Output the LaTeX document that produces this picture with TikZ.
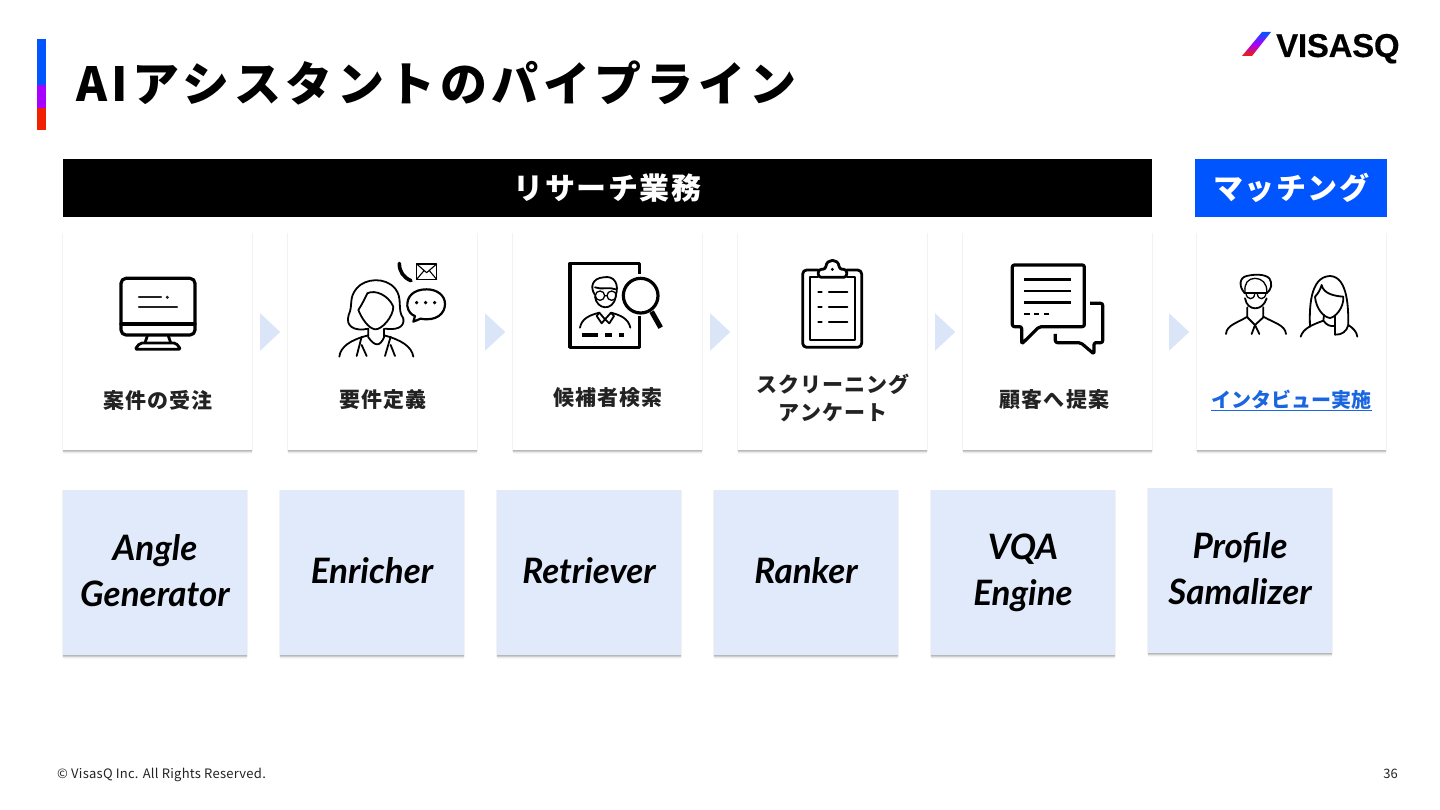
\documentclass[tikz,border=0pt]{standalone}
\usepackage{fontspec}
\setmainfont{Noto Sans CJK JP}
\newfontfamily\slantfont{Lato}
\newfontfamily\logofont[BoldFeatures={FakeBold=0.35}]{Liberation Sans}
\usetikzlibrary{arrows.meta, positioning, calc, shadows, shapes.geometric}
\definecolor{vqblue}{HTML}{0055FF}
\definecolor{vqpurple}{HTML}{A800FF}
\definecolor{vqred}{HTML}{F02000}
\definecolor{vqdark}{HTML}{222222}
\definecolor{vqlink}{HTML}{1A66E0}
\definecolor{vqpale}{HTML}{E1EAFB}
\definecolor{vqchev}{HTML}{DAE5F8}
\tikzset{
  softshadow/.style={
    general shadow={fill=black, opacity=0.05, shadow scale=1.012, shadow xshift=0pt, shadow yshift=-1pt},
    general shadow={fill=black, opacity=0.03, shadow xshift=0pt, shadow yshift=-4pt},
    general shadow={fill=black, opacity=0.05, shadow xshift=0pt, shadow yshift=-3pt},
    general shadow={fill=black, opacity=0.08, shadow xshift=0pt, shadow yshift=-2pt},
    general shadow={fill=black, opacity=0.10, shadow xshift=0pt, shadow yshift=-1pt}},
  card/.style={rectangle, minimum width=189pt, minimum height=217pt, inner sep=0pt, outer sep=0pt, fill=white, softshadow},
  tool/.style={rectangle, minimum width=184pt, minimum height=165pt, inner sep=0pt, outer sep=0pt, fill=vqpale, softshadow},
  toollabel/.style={align=center, inner sep=0pt, font=\slantfont\bfseries\itshape\fontsize{35}{46}\selectfont,
    execute at begin node=\strut, execute at end node=\strut},
  bar/.style={rectangle, minimum height=58pt, inner sep=0pt, text=white,
    font=\bfseries\fontsize{30}{36}\selectfont\addfontfeature{LetterSpace=5}},
  label/.style={align=center, text=vqdark, inner sep=0pt,
    font=\bfseries\fontsize{21}{28}\selectfont\addfontfeature{LetterSpace=5}},
  chev/.style={isosceles triangle, isosceles triangle apex angle=86, inner sep=0pt,
    minimum height=20pt, fill=vqchev, anchor=lower side},
  icon/.style={draw=black, line width=2.8pt, line join=round, line cap=round},
  thinicon/.style={draw=black, line width=1.8pt, line join=round, line cap=round},
}
\begin{document}
\begin{tikzpicture}[x=1pt, y=-1pt]
  \useasboundingbox (0,0) rectangle (1440,810);
  % title and logo
  \fill[vqblue] (37,39) rectangle (46,85);
  \fill[vqpurple] (37,85) rectangle (46,108);
  \fill[vqred] (37,108) rectangle (46,130);
  \node[anchor=base west, inner sep=0pt, font=\bfseries\fontsize{47}{50}\selectfont\addfontfeature{LetterSpace=9.7}] (title) at (76,102) {AIアシスタントのパイプライン};
  \shade[top color=vqblue, bottom color=vqred, middle color=vqpurple] (1262,32) -- (1271,32) -- (1252,56) -- (1242,56) -- cycle;
  \node[anchor=base west, inner sep=0pt, font=\logofont\bfseries\fontsize{33}{36}\selectfont\addfontfeature{LetterSpace=-0.8}] (logo) at (1276,57) {VISASQ};

  % headers
  \node[bar, fill=black, minimum width=1089pt, anchor=north west] (research) at (63,159) {リサーチ業務};
  \node[bar, fill=vqblue, minimum width=192pt, anchor=north west] (matching) at (1195,159) {マッチング};

  % process cards
  \node[card, anchor=north west] (order) at (63,233) {};
  \node[card, right=36pt of order] (define) {};
  \node[card, right=36pt of define] (search) {};
  \node[card, right=36pt of search] (screen) {};
  \node[card, right=36pt of screen] (propose) {};
  \node[card, right=45pt of propose] (interview) {};
  \foreach \a/\b in {order/define, define/search, search/screen, screen/propose}
    \node[chev] (\a-\b) at ($(\a.east)+(8,-9.5)$) {};
  \node[chev] (propose-interview) at ($(propose.east)+(17,-9.5)$) {};

  \node[label] (lborder) at (158,400) {案件の受注};
  \node[label] (lbdefine) at (383,400) {要件定義};
  \node[label] (lbsearch) at (608,398) {候補者検索};
  \node[label] (lbscreen) at (833,398) {スクリーニング\\アンケート};
  \node[label] (lbpropose) at (1054.5,400) {顧客へ提案};
  \node[label, text=vqlink, font=\bfseries\fontsize{20}{26}\selectfont\addfontfeature{LetterSpace=0.5}] (lbinterview) at (1291.5,400.5) {\underline{インタビュー実施}};

  % engine cards
  \node[tool, anchor=north west] (angle) at (63,490) {};
  \node[tool, right=33pt of angle] (enricher) {};
  \node[tool, right=33pt of enricher] (retriever) {};
  \node[tool, right=33pt of retriever] (ranker) {};
  \node[tool, right=33pt of ranker] (vqa) {};
  \node[tool, anchor=north west] (profile) at (1148,488) {};
  \foreach \n/\t/\dy in {angle/{Angle\\Generator}/4.5, enricher/Enricher/2, retriever/Retriever/2, ranker/Ranker/2, vqa/{VQA\\Engine}/4.5, profile/{Profile\\Samalizer}/4.5}
    \node[toollabel] (lb\n) at ($(\n)+(0,\dy)$) {\t};

  % monitor
  \begin{scope}[shift={(60,230)}, scale=1/3]
    \draw[icon, line width=3.2pt, rounded corners=5pt] (183,145) rectangle (405,315);
    \draw[icon, line width=3.2pt] (183,282) -- (405,282);
    \draw[icon] (262,318) -- (255,338) (325,318) -- (332,338);
    \draw[icon, rounded corners=2pt] (225,358) -- (240,339) -- (348,339) -- (362,358) -- cycle;
    \draw[draw=vqdark, line width=2.2pt, line cap=round] (237,202) -- (303,202) (237,232) -- (351,232);
    \fill[vqdark] (322,202) circle (5);
  \end{scope}

  % woman with phone, mail and bubble
  \begin{scope}[shift={(60,230)}, scale=1/3]
    \draw[thinicon] (925,296) .. controls (885,305) and (855,290) .. (866,255)
      .. controls (880,225) and (865,205) .. (890,175)
      .. controls (915,145) and (975,140) .. (1005,175)
      .. controls (1030,205) and (1010,240) .. (1030,265)
      .. controls (1035,295) and (1005,300) .. (975,296);
    \draw[thinicon] (895,240) .. controls (905,225) and (915,205) .. (922,190)
      .. controls (945,178) and (985,195) .. (1000,230)
      .. controls (1000,260) and (965,300) .. (945,298)
      .. controls (925,295) and (905,265) .. (895,240) -- cycle;
    \draw[thinicon] (925,296) -- (925,322) .. controls (945,350) and (960,350) .. (972,322) -- (972,296);
    \draw[thinicon] (838,380) .. controls (842,350) and (870,330) .. (925,316);
    \draw[thinicon] (1060,380) .. controls (1055,350) and (1025,330) .. (972,316);
    \draw[thinicon] (905,320) -- (890,378) (905,345) -- (920,378) (992,320) -- (975,378) (992,345) -- (1005,378);
    \draw[icon, line width=2.2pt] (1100,178) .. controls (1060,178) and (1040,200) .. (1042,228)
      .. controls (1044,245) and (1055,255) .. (1065,258) -- (1060,275) -- (1082,266)
      .. controls (1130,275) and (1155,250) .. (1155,222)
      .. controls (1155,195) and (1130,178) .. (1100,178) -- cycle;
    \foreach \px in {1070,1097,1124}
      \fill (\px,218) circle (5.5);
    \draw[icon, line width=3.6pt] (1018,100) .. controls (1018,125) and (1030,142) .. (1053,152);
    \draw[thinicon, line width=1.1pt] (1070,102) rectangle (1130,148);
    \draw[thinicon, line width=1.1pt] (1070,102) -- (1100,128) -- (1130,102) (1070,148) -- (1092,122) (1130,148) -- (1108,122);
  \end{scope}

  % profile and magnifier
  \begin{scope}[shift={(500,230)}, scale=1/3]
    \draw[icon, line cap=butt, line width=3.2pt] (418,132) -- (418,100) -- (210,100) -- (210,352) -- (418,352) -- (418,258);
    \draw[icon, line width=3.2pt] (422,197) circle (52);
    \draw[icon, line cap=butt, line width=5pt] (455,245) -- (482,293);
    \draw[thinicon] (285,195) .. controls (268,170) and (278,145) .. (310,142)
      .. controls (345,135) and (358,165) .. (347,197);
    \draw[thinicon] (285,200) .. controls (290,240) and (340,245) .. (347,200);
    \draw[thinicon] (285,172) .. controls (305,180) and (330,170) .. (347,178);
    \draw[thinicon, line width=1.3pt] (300,197) circle (14) (335,197) circle (14) (314,197) -- (321,197);
    \draw[thinicon] (240,293) .. controls (245,265) and (270,255) .. (298,248) -- (315,268) -- (333,248)
      .. controls (360,255) and (385,265) .. (391,293);
    \draw[thinicon] (298,248) -- (290,258) -- (305,280) -- (315,268) -- (328,280) -- (342,258) -- (333,248);
    \draw[icon, line cap=butt, line width=3.2pt] (245,315) -- (295,315) (315,315) -- (335,315) (358,315) -- (372,315);
  \end{scope}

  % clipboard
  \begin{scope}[shift={(500,230)}, scale=1/3]
    \draw[icon, rounded corners=4pt] (955,120) -- (908,120) -- (908,352) -- (1085,352) -- (1085,120) -- (1040,120);
    \draw[thinicon, line cap=butt] (955,141) -- (930,141) -- (930,330) -- (1065,330) -- (1065,141) -- (1040,141);
    \draw[icon, rounded corners=3pt] (955,142) -- (955,118) -- (977,118) .. controls (980,85) and (1015,85) .. (1018,118) -- (1040,118) -- (1040,142) -- cycle;
    \fill (997,118) circle (5);
    \foreach \py in {185,232,277} {
      \draw[icon, line width=2.2pt] (955,\py) -- (965,\py);
      \draw[icon, line width=2.2pt] (987,\py) -- (1042,\py);
    }
  \end{scope}

  % chat bubbles
  \begin{scope}[shift={(950,230)}, scale=1/3]
    \draw[icon, line width=3.2pt, rounded corners=2pt] (187,105) -- (403,105) -- (403,290) -- (268,290) -- (215,342) -- (215,290) -- (187,290) -- cycle;
    \draw[icon, line cap=butt] (222,148) -- (362,148) (222,183) -- (362,183) (222,218) -- (362,218);
    \draw[icon, line cap=butt] (222,252) -- (240,252) (252,252) -- (268,252) (282,252) -- (298,252);
    \draw[icon, line width=3.2pt, line cap=butt, rounded corners=2pt] (420,220) -- (458,220) -- (458,338) -- (432,338) -- (432,372) -- (392,338) -- (316,338) -- (316,312);
  \end{scope}

  % man and woman
  \begin{scope}[shift={(950,230)}, scale=1/3]
    \draw[thinicon] (885,190) .. controls (865,170) and (868,142) .. (890,138)
      .. controls (915,132) and (945,132) .. (958,145) .. controls (968,160) and (965,178) .. (950,190);
    \draw[thinicon, line width=1.3pt] (885,185) .. controls (882,160) and (895,145) .. (915,145) .. controls (935,145) and (952,160) .. (950,185);
    \draw[thinicon] (885,205) .. controls (892,245) and (938,245) .. (950,205);
    \draw[thinicon] (883,190) -- (950,190);
    \draw[thinicon, line width=1.3pt] (888,190) .. controls (890,210) and (912,212) .. (914,192);
    \draw[thinicon, line width=1.3pt] (922,192) .. controls (925,212) and (945,210) .. (948,190);
    \draw[thinicon] (892,232) -- (892,262) -- (915,285) -- (940,262) -- (940,232);
    \draw[thinicon] (828,312) .. controls (830,285) and (860,280) .. (892,260);
    \draw[thinicon] (1008,312) .. controls (1005,285) and (975,280) .. (940,260);
    \draw[thinicon] (915,285) -- (905,312) (915,285) -- (928,312);
    \draw[thinicon] (1080,290) .. controls (1078,240) and (1078,140) .. (1140,138)
      .. controls (1195,140) and (1195,240) .. (1195,285);
    \draw[thinicon] (1095,200) .. controls (1105,190) and (1110,180) .. (1115,165)
      .. controls (1120,190) and (1150,198) .. (1180,200)
      .. controls (1182,235) and (1155,262) .. (1140,264)
      .. controls (1120,262) and (1098,235) .. (1095,200);
    \draw[thinicon] (1122,255) -- (1120,272) .. controls (1130,285) and (1140,290) .. (1155,288);
    \draw[thinicon] (1052,320) .. controls (1060,295) and (1085,285) .. (1120,272);
    \draw[thinicon] (1155,258) -- (1155,314) .. controls (1175,315) and (1190,305) .. (1195,285)
      .. controls (1210,295) and (1220,305) .. (1222,320);
  \end{scope}

  % footer
  \node[anchor=base west, inner sep=0pt, text=vqdark, font=\fontsize{13}{16}\selectfont\addfontfeature{LetterSpace=2}] (copyright) at (57,778) {© VisasQ Inc. All Rights Reserved.};
  \node[anchor=base east, inner sep=0pt, text=vqdark, font=\fontsize{13}{16}\selectfont] (page) at (1398,778) {36};
\end{tikzpicture}
\end{document}
